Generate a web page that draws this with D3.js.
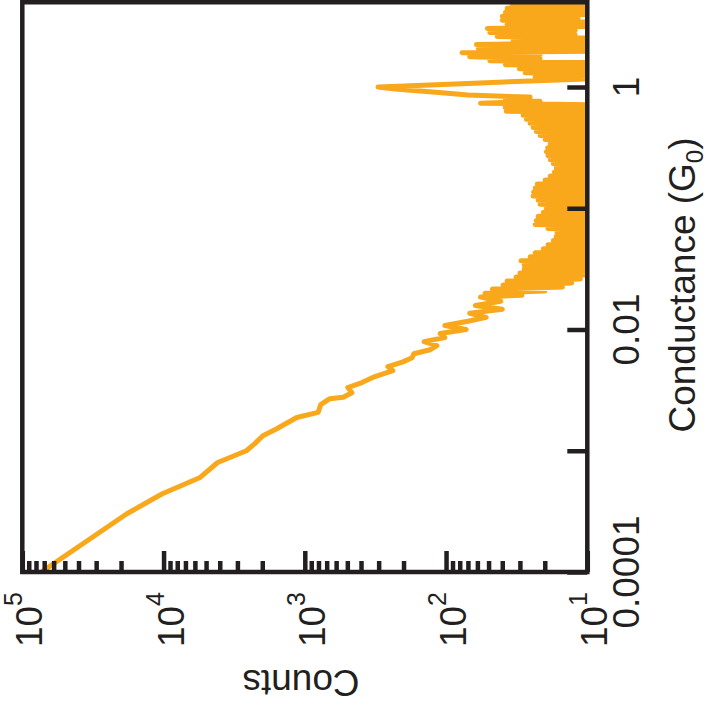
<!DOCTYPE html>
<html><head><meta charset="utf-8">
<script src="https://cdn.jsdelivr.net/npm/d3@7"></script>
<style>html,body{margin:0;padding:0;background:#fff;overflow:hidden}</style>
</head><body>
<svg id="chart" width="707" height="717"></svg>
<script>
// Conductance bins (G0): smooth low-conductance part
const conductanceLow = [
  1.00e-4, 3.01e-4, 4.42e-4, 5.98e-4, 8.00e-4, 1.00e-3, 1.14e-3, 1.33e-3, 1.51e-3, 1.88e-3,
  2.07e-3, 2.40e-3, 2.69e-3, 2.76e-3, 3.01e-3, 3.32e-3, 3.65e-3, 4.09e-3, 4.58e-3, 4.94e-3,
  5.41e-3, 5.84e-3, 6.31e-3, 6.81e-3, 7.36e-3, 7.94e-3, 8.58e-3, 9.26e-3,
  0.0100, 0.0108, 0.0117, 0.0126, 0.0136, 0.0147, 0.0158, 0.0171, 0.0185
];
const countsLow = [
  73300, 18300, 10200, 5560, 4140, 2590, 2270, 1980, 1590, 1140,
  805, 771, 665, 534, 464, 496, 394, 319, 238, 258,
  202, 174, 169, 130, 116, 143, 102, 110,
  72, 102, 70, 52, 68, 40, 62, 41, 57
];
// Conductance bins (G0): fine bins of the noisy high-conductance part
const conductanceHigh = [
  0.01919, 0.01995, 0.02073, 0.02154, 0.02239, 0.02326, 0.02417, 0.02512, 0.02610, 0.02712,
  0.02818, 0.02929, 0.03043, 0.03162, 0.03286, 0.03415, 0.03548, 0.03687, 0.03831, 0.03981,
  0.04137, 0.04299, 0.04467, 0.04642, 0.04823, 0.05012, 0.05208, 0.05412, 0.05623, 0.05843,
  0.06072, 0.06310, 0.06556, 0.06813, 0.07079, 0.07356, 0.07644, 0.07943, 0.08254, 0.08577,
  0.08913, 0.09261, 0.09624,
  0.1000, 0.1039, 0.1080, 0.1122, 0.1166, 0.1211, 0.1259, 0.1308, 0.1359, 0.1413,
  0.1468, 0.1525, 0.1585, 0.1647, 0.1711, 0.1778, 0.1848, 0.1919, 0.1995, 0.2073,
  0.2154, 0.2239, 0.2326, 0.2417, 0.2512, 0.2610, 0.2712, 0.2818, 0.2929, 0.3043,
  0.3162, 0.3286, 0.3415, 0.3548, 0.3687, 0.3831, 0.3981, 0.4137, 0.4299, 0.4467,
  0.4642, 0.4823, 0.5012, 0.5208, 0.5412, 0.5623, 0.5843, 0.6072, 0.6310, 0.6556,
  0.6813, 0.7079, 0.7356, 0.7644, 0.7943, 0.8254, 0.8577, 0.8913, 0.9261, 0.9624,
  1.000, 1.039, 1.080, 1.122, 1.166, 1.211, 1.259, 1.308, 1.359, 1.413,
  1.468, 1.525, 1.585, 1.647, 1.711, 1.778, 1.848, 1.919, 1.995, 2.073,
  2.154, 2.239, 2.326, 2.417, 2.512, 2.610, 2.712, 2.818, 2.929, 3.043,
  3.162, 3.286, 3.415, 3.548, 3.687, 3.831, 3.981, 4.137, 4.299, 4.467,
  4.642, 4.823, 5.012
];
const countsHigh = [
  29, 53, 20, 47, 15, 39.5, 12.9, 37, 11.2, 32,
  10.1, 30, 8, 28, 6, 28, 7, 29.5, 9, 25.4,
  5, 23.4, 8, 20.5, 6, 19, 7, 17.4, 9, 16.6,
  5, 16.4, 8, 19, 6, 23.4, 7, 23, 9, 22.3,
  5, 20.5, 8, 19.5, 6, 21.6, 7, 22.3, 9, 24.2,
  5, 24, 8, 23.4, 6, 22.6, 7, 19.9, 9, 18.3,
  5, 17.1, 8, 16.6, 6, 17.4, 7, 18.3, 9, 19,
  5, 19.5, 8, 19.1, 6, 18.3, 7, 19.9, 9, 21.6,
  5, 23, 8, 24.2, 6, 25.4, 7, 27, 9, 28.5,
  5, 37.5, 8, 38.2, 6, 57, 21.6, 38, 25.4, 70,
  102, 153, 230, 303, 130, 57, 25.4, 10.3, 23.4, 7,
  27.5, 9, 30.3, 6, 38, 8, 49, 21.6, 68, 21.6,
  77, 5, 59, 7, 61, 9, 33.5, 6, 43.4, 12.2,
  49, 12.2, 51, 8, 37, 7, 40, 11.6, 40, 9,
  38, 6, 37, 8, 34, 5
];
const countMajorTicks = [1e5, 1e4, 1e3, 1e2, 1e1];
const countTickExponents = ["5", "4", "3", "2", "1"];
const conductanceTicks = [1, 0.1, 0.01, 0.001, 0.0001];
const conductanceTickLabels = ["1", "", "0.01", "", "0.0001"];
const countTitle = "Counts";
const conductanceTitle = "Conductance (G";
const conductanceSub = "0";

const FONT = "'Liberation Sans', Arial, Helvetica, sans-serif";
const INK = "#231F20";
const ORANGE = "#F9A71B";

const svg = d3.select("#chart");
const x = d3.scaleLog().domain([1e5, 10]).range([22.3, 587.3]);
const y = d3.scaleLog().domain([1e-4, 1]).range([572, 87]);
const xL = x(1e5), xR = x(10), yB = y(1e-4), yT = y(5);

svg.append("clipPath").attr("id", "clip")
  .append("rect").attr("x", xL).attr("y", yT).attr("width", xR - xL).attr("height", yB - yT);

const conductance = conductanceLow.concat(conductanceHigh);
const counts = countsLow.concat(countsHigh);
const data = conductance.map((g, i) => ({g, c: counts[i]}));
const line = d3.line().x(d => x(d.c)).y(d => y(d.g));
svg.append("path").datum(data)
  .attr("clip-path", "url(#clip)")
  .attr("d", line)
  .attr("fill", "none").attr("stroke", ORANGE)
  .attr("stroke-width", 5).attr("stroke-linejoin", "round").attr("stroke-linecap", "round");

// Minor ticks on counts axis
const minorVals = [];
[10, 100, 1000, 10000].forEach(d => { for (let k = 2; k <= 9; k++) minorVals.push(k * d); });

function styleAxis(g) {
  g.select(".domain").remove();
  g.selectAll(".tick line").attr("stroke", INK).attr("stroke-width", 4.5);
  g.selectAll(".tick text").remove();
}
svg.append("g").attr("transform", `translate(0,${yB})`)
  .call(d3.axisBottom(x).tickValues(minorVals).tickSize(-11).tickFormat(""))
  .call(styleAxis);
svg.append("g").attr("transform", `translate(0,${yB})`)
  .call(d3.axisBottom(x).tickValues(countMajorTicks).tickSize(-21).tickFormat(""))
  .call(styleAxis);
svg.append("g").attr("transform", `translate(${xR},0)`)
  .call(d3.axisRight(y).tickValues(conductanceTicks).tickSize(-20).tickFormat(""))
  .call(styleAxis);

// Frame
svg.append("rect").attr("x", xL).attr("y", yT).attr("width", xR - xL).attr("height", yB - yT)
  .attr("fill", "none").attr("stroke", INK).attr("stroke-width", 4.5);

// Count tick labels (rotated)
countMajorTicks.forEach((v, i) => {
  const t = svg.append("text")
    .attr("transform", `translate(${x(v) + 20},592) rotate(-90)`)
    .attr("text-anchor", "end")
    .attr("font-family", FONT).attr("font-size", 37).attr("fill", INK);
  t.append("tspan").text("10");
  t.append("tspan").attr("dy", -20).attr("font-size", 25).text(countTickExponents[i]);
});

// Conductance tick labels
conductanceTicks.forEach((v, i) => {
  if (!conductanceTickLabels[i]) return;
  svg.append("text")
    .attr("transform", `translate(639,${y(v)}) rotate(-90)`)
    .attr("text-anchor", "middle")
    .attr("font-family", FONT).attr("font-size", 37).attr("fill", INK)
    .text(conductanceTickLabels[i]);
});

// Axis titles
const ct = svg.append("text")
  .attr("transform", "translate(695,285) rotate(-90)")
  .attr("text-anchor", "middle")
  .attr("font-family", FONT).attr("font-size", 37).attr("fill", INK);
ct.append("tspan").text(conductanceTitle);
ct.append("tspan").attr("dy", 8).attr("font-size", 24).text(conductanceSub);
ct.append("tspan").attr("dy", -8).text(")");

svg.append("text")
  .attr("transform", "translate(301,670) rotate(180)")
  .attr("text-anchor", "middle")
  .attr("font-family", FONT).attr("font-size", 37).attr("fill", INK)
  .text(countTitle);
</script>
</body></html>
